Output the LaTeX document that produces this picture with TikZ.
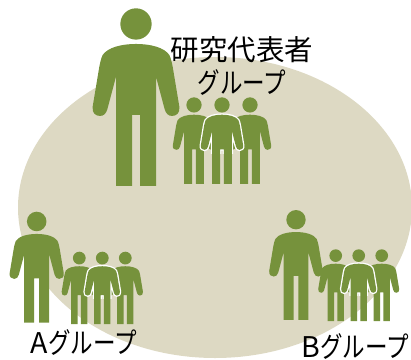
\documentclass[tikz,border=0pt]{standalone}
\usepackage{fontspec}
\setmainfont{Noto Sans CJK JP}
\newfontfamily\kanafont[FakeStretch=0.79]{Noto Sans CJK JP}
\definecolor{figgreen}{RGB}{118,146,60}
\definecolor{discbeige}{RGB}{221,217,195}
\newcommand{\figoutline}{
      (0,107) .. controls (45,107) and (85,118) .. (100,140)
      .. controls (104,148) and (107,160) .. (110,175)
      -- (130,295)
      .. controls (133,315) and (120,323) .. (108,323)
      .. controls (97,323) and (90,316) .. (86,303)
      -- (60,205) -- (60,533) -- (12,533) -- (12,320) -- (-12,320) -- (-12,533) -- (-60,533) -- (-60,205)
      -- (-86,303)
      .. controls (-90,316) and (-97,323) .. (-108,323)
      .. controls (-120,323) and (-133,315) .. (-130,295)
      -- (-110,175)
      .. controls (-107,160) and (-104,148) .. (-100,140)
      .. controls (-85,118) and (-45,107) .. (0,107) -- cycle}
\tikzset{
  x=1pt,y=-1pt,
  personfig/.pic={
    \path[fill=figgreen] (0,47) circle (47);
    \path[fill=figgreen] \figoutline;
  },
  frontfig/.pic={
    \begin{scope}
      \clip (-200,100) rectangle (200,345);
      \path[draw=white,line width=2.6pt,line join=round] \figoutline;
    \end{scope}
    \path[fill=figgreen] (0,47) circle (47);
    \path[fill=figgreen] \figoutline;
  },
  label text/.style={font=\fontsize{28.5}{31}\selectfont,inner sep=0pt,text=black},
}
\begin{document}
\begin{tikzpicture}
\useasboundingbox (0,0) rectangle (411,359);
\begin{scope}
\clip (0,0) rectangle (411,359);
\fill[discbeige] (215,207.5) ellipse [x radius=197,y radius=150.5];
\end{scope}
% research-lead group
\pic[scale=.3333] at (136,8.3) {personfig};
\pic[scale=.1626] at (194,97.3) {personfig};
\pic[scale=.1626] at (250,97.3) {personfig};
\pic[scale=.1626] at (222,97.3) {frontfig};
% group A
\pic[scale=.208] at (36.7,211.7) {personfig};
\pic[scale=.1357] at (79.3,251.7) {personfig};
\pic[scale=.1357] at (125.3,251.7) {personfig};
\pic[scale=.1357] at (102.3,251.7) {frontfig};
% group B
\pic[scale=.206] at (296,210) {personfig};
\pic[scale=.1345] at (335.7,249.3) {personfig};
\pic[scale=.1345] at (381.7,249.3) {personfig};
\pic[scale=.1345] at (358.7,249.3) {frontfig};
% labels
\node[label text] (lead1) at (242,50) {研究代表者};
\node[label text] (lead2) at (242,83) {\kanafont グループ};
\node[label text] (groupa) at (84,343) {A\kanafont グループ};
\node[label text] (groupb) at (355,347) {B\kanafont グループ};
\end{tikzpicture}
\end{document}
